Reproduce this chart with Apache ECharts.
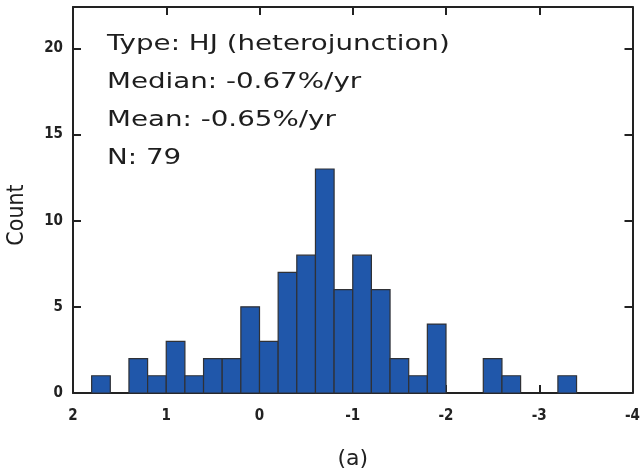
<!DOCTYPE html>
<html>
<head>
<meta charset="utf-8">
<script src="https://cdn.jsdelivr.net/npm/echarts@6/dist/echarts.min.js"></script>
<style>
  html, body { margin: 0; padding: 0; background: #fff; }
  #chart { width: 643px; height: 476px; }
</style>
</head>
<body>
<div id="chart"></div>
<script>
// bin left edges (%/yr), bin width 0.2
var binStarts = [1.8, 1.6, 1.4, 1.2, 1.0, 0.8, 0.6, 0.4, 0.2, 0.0,
                 -0.2, -0.4, -0.6, -0.8, -1.0, -1.2, -1.4, -1.6, -1.8, -2.0,
                 -2.2, -2.4, -2.6, -2.8, -3.0, -3.2, -3.4, -3.6, -3.8, -4.0];
var counts = [0, 1, 0, 2, 1, 3, 1, 2, 2, 5,
              3, 7, 8, 13, 6, 8, 6, 2, 1, 4,
              0, 0, 2, 1, 0, 0, 1, 0, 0, 0];
var binWidth = 0.2;
var statLines = ['Type: HJ (heterojunction)', 'Median: -0.67%/yr', 'Mean: -0.65%/yr', 'N: 79'];

var data = [];
for (var i = 0; i < binStarts.length; i++) {
	if (counts[i] > 0) {
		data.push([binStarts[i], binStarts[i] + binWidth, counts[i]]);
	}
}

var chart = echarts.init(document.getElementById('chart'));
var axisColor = '#222';

function tickFont(margin) {
	return {
		margin: margin,
		fontFamily: '"DejaVu Sans Condensed", "DejaVu Sans", sans-serif',
		fontWeight: 'bold',
		fontSize: 15,
		color: '#222'
	};
}
function frameLine() {
	return { show: true, onZero: false, lineStyle: { color: axisColor, width: 2 } };
}
function frameTick() {
	return { show: true, inside: true, length: 8, lineStyle: { color: axisColor, width: 2 } };
}

var option = {
	animation: false,
	grid: { left: 73, right: 5, top: 7, bottom: 83 },
	xAxis: [{
		type: 'value',
		min: -4,
		max: 2,
		interval: 1,
		inverse: true,
		axisLine: frameLine(),
		axisTick: frameTick(),
		axisLabel: tickFont(16),
		splitLine: { show: false },
		name: '(a)',
		nameLocation: 'middle',
		nameGap: 55,
		nameTextStyle: { fontFamily: 'DejaVu Sans', fontSize: 22, color: '#222' }
	}, {
		type: 'value',
		position: 'top',
		min: -4,
		max: 2,
		interval: 1,
		inverse: true,
		axisLine: frameLine(),
		axisTick: frameTick(),
		axisLabel: { show: false },
		splitLine: { show: false }
	}],
	yAxis: [{
		type: 'value',
		position: 'left',
		min: 0,
		max: 22.4,
		interval: 5,
		axisLine: frameLine(),
		axisTick: frameTick(),
		axisLabel: Object.assign(tickFont(10), { showMaxLabel: false }),
		splitLine: { show: false }
	}, {
		type: 'value',
		position: 'right',
		min: 0,
		max: 22.4,
		interval: 5,
		axisLine: frameLine(),
		axisTick: frameTick(),
		axisLabel: { show: false },
		splitLine: { show: false }
	}],
	series: [{
		type: 'custom',
		xAxisIndex: 0,
		yAxisIndex: 0,
		data: data,
		renderItem: function (params, api) {
			var p0 = api.coord([api.value(0), 0]);
			var p1 = api.coord([api.value(1), api.value(2)]);
			return {
				type: 'rect',
				shape: {
					x: Math.min(p0[0], p1[0]),
					y: p1[1],
					width: Math.abs(p1[0] - p0[0]),
					height: p0[1] - p1[1]
				},
				style: { fill: '#2057aa', stroke: '#2f3136', lineWidth: 1.2 }
			};
		}
	}],
	graphic: statLines.map(function (t, k) {
		return {
			type: 'text',
			x: 107,
			y: 44 + k * 38,
			scaleX: 1.26,
			style: {
				text: t,
				fontFamily: 'DejaVu Sans',
				fontSize: 22,
				fill: '#1e1e1e',
				textVerticalAlign: 'middle'
			}
		};
	}).concat([{
		type: 'text',
		x: 17,
		y: 215,
		rotation: Math.PI / 2,
		style: {
			text: 'Count',
			fontFamily: '"DejaVu Sans Condensed", "DejaVu Sans", sans-serif',
			fontSize: 23,
			fill: '#1e1e1e',
			textAlign: 'center',
			textVerticalAlign: 'middle'
		}
	}])
};

chart.setOption(option);
</script>
</body>
</html>
